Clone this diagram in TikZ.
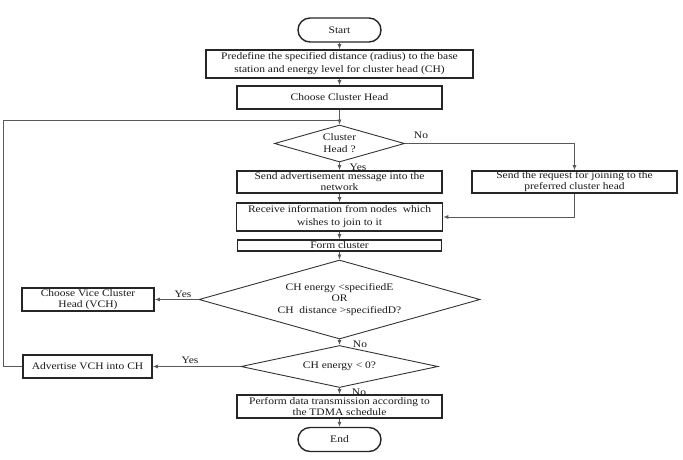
\documentclass[tikz,border=0pt]{standalone}
\usepackage{fontspec}
\setmainfont{Liberation Serif}[FakeStretch=1.15]
\usetikzlibrary{shapes.geometric,arrows.meta}
\newcommand{\fsz}{\fontsize{10}{11}\selectfont}
\begin{document}
\begin{tikzpicture}[x=1pt,y=-1pt,
  box/.style={draw=black!85, line width=1.6pt, rectangle, inner sep=0pt, align=center, font=\fsz, text=black!90},
  term/.style={draw=black!85, line width=1.4pt, rounded corners=12pt, inner sep=0pt, minimum width=83pt, minimum height=24pt, font=\fsz, text=black!90},
  dec/.style={draw=black!80, line width=0.9pt, diamond, inner sep=0pt, align=center, font=\fsz, text=black!90},
  conn/.style={draw=black!65, line width=0.8pt},
  arr/.style={conn, -{Latex[length=5pt,width=4pt]}},
  lbl/.style={font=\fsz, inner sep=0pt, text=black!90}
]
\useasboundingbox (0,0) rectangle (683,459);

\node[term] (start) at (339.5,30) {Start};
\node[box, minimum width=267pt, minimum height=28pt] (pre) at (339.5,64) {Predefine the specified distance (radius) to the base\\[2pt]station and energy level for cluster head (CH)};
\node[box, minimum width=205pt, minimum height=23pt] (choose) at (339.5,97.5) {Choose Cluster Head};
\node[dec, minimum width=130pt, minimum height=37pt, shape aspect=3.5] (d1) at (339.5,143.5) {Cluster\\[1pt]Head ?};
\node[box, minimum width=205pt, minimum height=22pt] (adv) at (339.5,182) {Send advertisement message into the\\network};
\node[box, minimum width=205pt, minimum height=22pt] (req) at (574.5,182) {Send the request for joining to the\\preferred cluster head};
\node[box, minimum width=206pt, minimum height=28pt] (recv) at (339.5,217) {Receive information from nodes\ \ which\\[2pt]wishes to join to it};
\node[box, minimum width=204pt, minimum height=11pt] (form) at (339.5,245.5) {Form cluster};
\node[dec, minimum width=281pt, minimum height=79pt, shape aspect=3.5] (d2) at (339.5,299.5) {CH energy <specifiedE\\[0.5pt]OR\\[0.5pt]CH\ \ distance >specifiedD?};
\node[box, minimum width=132pt, minimum height=23pt] (vch) at (88,299.5) {Choose Vice Cluster\\Head (VCH)};
\node[dec, minimum width=197pt, minimum height=42pt, shape aspect=4.7] (d3) at (339.5,366.5) {CH energy < 0?};
\node[box, minimum width=129pt, minimum height=23pt] (advvch) at (87.5,366.5) {Advertise VCH into CH};
\node[box, minimum width=205pt, minimum height=23pt] (perf) at (339.5,406.5) {Perform data transmission according to\\the TDMA schedule};
\node[term] (end) at (339.5,439.5) {End};

\node[lbl] (no1) at (421,135) {No};
\node[lbl] (yes1) at (358,167) {Yes};
\node[lbl] (yes2) at (183,294) {Yes};
\node[lbl] (no2) at (360,344) {No};
\node[lbl] (yes3) at (190,360) {Yes};
\node[lbl] (no3) at (359,392) {No};

\draw[arr] (start) -- (pre);
\draw[arr] (pre) -- (choose);
\draw[arr] (choose) -- (d1);
\draw[arr] (d1) -- (adv);
\draw[arr] (d1.east) -| (req.north);
\draw[arr] (adv) -- (recv);
\draw[arr] (req.south) |- (recv.east);
\draw[arr] (recv) -- (form);
\draw[arr] (form) -- (d2);
\draw[arr] (d2.west) -- (vch.east);
\draw[arr] (d2) -- (d3);
\draw[arr] (d3.west) -- (advvch.east);
\draw[arr] (d3) -- (perf);
\draw[arr] (perf) -- (end);
\coordinate (loopL) at (3,120.5);
\coordinate (join) at (339.5,120.5);
\draw[conn] (advvch.west) -| (loopL) -- (join);
\end{tikzpicture}
\end{document}
